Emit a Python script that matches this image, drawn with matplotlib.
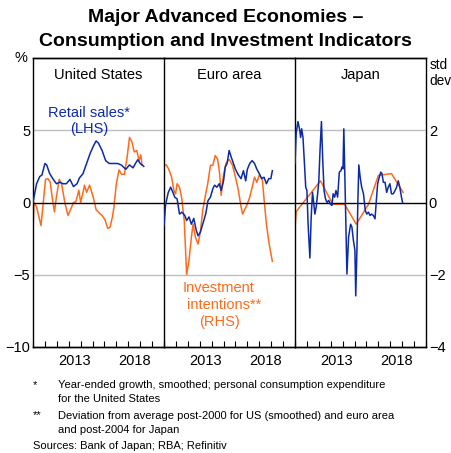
import matplotlib
matplotlib.use("Agg")
import matplotlib.pyplot as plt
import numpy as np

plt.rcParams["font.family"] = ["Liberation Sans", "DejaVu Sans"]

BLUE = "#0C2AA8"
ORANGE = "#FF6A1A"
GRID = "#BDBDBD"

# ---- data ----
# United States
us_retail_t = [2010.0, 2010.3, 2010.57, 2010.75, 2011.0, 2011.15, 2011.4, 2011.7, 2011.97, 2012.25,
               2012.5, 2012.8, 2013.1, 2013.4, 2013.7, 2013.9, 2014.2, 2014.5, 2014.8, 2015.1,
               2015.3, 2015.5, 2015.8, 2016.1, 2016.4, 2016.8, 2017.1, 2017.4, 2017.8, 2018.1,
               2018.4, 2018.6, 2018.8, 2019.0, 2019.3]
us_retail = [0.0, 1.3, 1.8, 1.9, 2.7, 2.6, 2.0, 1.6, 1.3, 1.4,
             1.3, 1.3, 1.6, 1.1, 1.3, 1.7, 2.0, 2.7, 3.4, 3.96,
             4.26, 4.1, 3.6, 2.9, 2.7, 2.7, 2.7, 2.6, 2.3, 2.6,
             2.4, 2.7, 2.96, 2.7, 2.5]
us_invest_t = [2010.0, 2010.08, 2010.3, 2010.5, 2010.67, 2010.83, 2011.05, 2011.25, 2011.45, 2011.6,
               2011.8, 2011.97, 2012.2, 2012.4, 2012.67, 2012.94, 2013.2, 2013.4, 2013.6, 2013.85,
               2014.0, 2014.2, 2014.32, 2014.5, 2014.75, 2015.05, 2015.3, 2015.6, 2015.8, 2016.05,
               2016.28, 2016.47, 2016.67, 2016.8, 2017.0, 2017.22, 2017.44, 2017.67, 2017.9, 2018.1,
               2018.3, 2018.5, 2018.72, 2018.9, 2019.05, 2019.15, 2019.2]
us_invest = [-0.82, 0.0, -0.12, -0.4, -0.64, -0.12, 0.64, 0.66, 0.56, 0.16,
             -0.26, 0.16, 0.64, 0.52, 0.0, -0.36, -0.16, 0.0, 0.02, 0.34,
             0.0, 0.28, 0.48, 0.28, 0.48, 0.16, -0.2, -0.3, -0.36, -0.48,
             -0.72, -0.68, -0.4, -0.12, 0.52, 0.9, 0.78, 0.78, 1.24, 1.8,
             1.68, 1.4, 1.44, 1.16, 1.32, 1.04, 1.04]

# Euro area
ea_retail_t = [2010.0, 2010.14, 2010.36, 2010.56, 2010.75, 2010.9, 2011.1, 2011.3, 2011.5, 2011.75,
               2011.9, 2012.1, 2012.3, 2012.5, 2012.7, 2012.86, 2013.05, 2013.25, 2013.5, 2013.7,
               2013.9, 2014.1, 2014.25, 2014.44, 2014.64, 2014.8, 2015.0, 2015.14, 2015.3, 2015.47,
               2015.64, 2015.83, 2016.0, 2016.25, 2016.47, 2016.67, 2016.86, 2017.0, 2017.2, 2017.4,
               2017.6, 2017.8, 2018.0, 2018.2, 2018.4, 2018.6, 2018.8, 2018.97, 2019.1]
ea_retail = [-1.6, -0.1, 0.7, 1.06, 0.7, 0.37, 0.25, -0.8, -0.67, -0.9,
             -1.25, -1.0, -1.5, -1.1, -1.9, -2.3, -2.06, -1.5, -0.8, 0.14,
             0.37, 0.95, 1.2, 1.06, 1.3, 0.83, 1.5, 2.45, 2.7, 3.6,
             3.15, 2.7, 2.3, 1.9, 1.65, 2.2, 1.5, 2.3, 2.7, 2.9,
             2.7, 2.3, 2.0, 1.65, 1.75, 1.3, 1.65, 1.65, 2.2]
ea_invest_t = [2010.0, 2010.2, 2010.4, 2010.64, 2010.83, 2010.97, 2011.1, 2011.3, 2011.5, 2011.7,
               2011.9, 2012.1, 2012.3, 2012.44, 2012.64, 2012.86, 2013.05, 2013.25, 2013.5, 2013.67,
               2013.9, 2014.1, 2014.3, 2014.5, 2014.67, 2014.8, 2015.0, 2015.2, 2015.47, 2015.75,
               2016.0, 2016.25, 2016.47, 2016.6, 2016.8, 2017.0, 2017.2, 2017.4, 2017.6, 2017.8,
               2018.0, 2018.25, 2018.4, 2018.6, 2018.83, 2019.1]
ea_invest = [1.03, 1.04, 0.92, 0.7, 0.33, 0.24, 0.52, 0.42, 0.1, -0.5,
             -2.0, -1.6, -0.96, -0.6, -0.96, -1.15, -0.82, -0.22, 0.24, 0.52,
             1.03, 1.03, 1.3, 1.2, 0.8, 0.2, 0.76, 1.08, 1.2, 1.03,
             0.7, 0.33, -0.12, -0.32, -0.18, -0.04, 0.15, 0.42, 0.7, 0.56,
             0.76, 0.66, 0.1, -0.6, -1.15, -1.63]

# Japan
jp_retail_t = [2010.0, 2010.1, 2010.25, 2010.4, 2010.47, 2010.56, 2010.67, 2010.78, 2010.9, 2011.0,
               2011.1, 2011.25, 2011.36, 2011.47, 2011.58, 2011.67, 2011.78, 2011.9, 2012.0, 2012.1,
               2012.22, 2012.33, 2012.44, 2012.56, 2012.7, 2012.83, 2013.0, 2013.1, 2013.2, 2013.33,
               2013.44, 2013.58, 2013.72, 2013.86, 2013.94, 2014.03, 2014.1, 2014.2, 2014.36, 2014.5,
               2014.67, 2014.78, 2014.9, 2015.03, 2015.1, 2015.2, 2015.28, 2015.36, 2015.47, 2015.6,
               2015.75, 2015.9, 2016.03, 2016.17, 2016.3, 2016.44, 2016.58, 2016.72, 2016.83, 2016.94,
               2017.08, 2017.2, 2017.3, 2017.42, 2017.56, 2017.7, 2017.83, 2017.97, 2018.1, 2018.25,
               2018.4, 2018.53, 2018.67, 2018.8, 2018.94, 2019.03]
jp_retail = [2.7, 4.8, 5.6, 5.0, 4.5, 5.1, 4.5, 2.9, 1.06, 0.83,
             -1.5, -3.84, -1.0, 0.7, -0.1, -0.8, -0.3, 0.6, 1.5, 3.6,
             5.6, 2.9, 0.83, 0.25, 0.0, 0.14, -0.14, -0.2, 0.6, 0.37,
             0.83, 0.37, 2.1, 2.2, 2.45, 2.33, 5.1, 1.3, -4.95, -2.4,
             -1.5, -1.7, -2.6, -3.3, -6.46, -3.3, 0.14, 2.6, 1.76, 1.06,
             0.6, -0.55, -0.8, -0.67, -0.9, -0.8, -0.9, -1.13, 0.14, 1.3,
             1.76, 2.1, 2.0, 1.4, 1.4, 0.7, 1.06, 1.3, 0.6, 0.6,
             0.83, 1.06, 1.5, 1.06, 0.37, 0.0]
jp_invest_t = [2010.0, 2010.1, 2012.14, 2013.17, 2014.17, 2015.14, 2016.17, 2017.0, 2018.1, 2019.08]
jp_invest = [-0.72, -0.25, 0.6, -0.05, -0.05, -0.6, -0.05, 0.75, 0.8, 0.28]

panels = [
    ("United States", us_retail_t, us_retail, us_invest_t, us_invest),
    ("Euro area", ea_retail_t, ea_retail, ea_invest_t, ea_invest),
    ("Japan", jp_retail_t, jp_retail, jp_invest_t, jp_invest),
]

W, H = 451, 453
fig = plt.figure(figsize=(W / 100, H / 100), dpi=100)

left_px, right_px, top_px, bot_px = 33, 426, 58, 347
pw = (right_px - left_px) / 3.0

for i, (name, rt, rv, it, iv) in enumerate(panels):
    x0 = (left_px + i * pw) / W
    ax = fig.add_axes([x0, 1 - bot_px / H, pw / W, (bot_px - top_px) / H])
    ax2 = ax.twinx()

    ax.set_xlim(2010, 2021)
    ax.set_ylim(-10, 10)
    ax2.set_ylim(-4, 4)

    for yv in (5, -5):
        ax.axhline(yv, color=GRID, lw=1.0, zorder=0)
    ax.axhline(0, color="black", lw=1.0, zorder=1)

    ax.plot(rt, rv, color=BLUE, lw=1.1, zorder=3)
    ax2.plot(it, iv, color=ORANGE, lw=1.1, zorder=2)

    ax.set_xticks(np.arange(2010, 2022), minor=False)
    ax.set_xticklabels([])
    ax.set_xticks([2013.5, 2018.5], minor=True)
    ax.set_xticklabels(["2013", "2018"], minor=True)
    ax.tick_params(axis="x", which="major", direction="in", length=4, width=0.8, color="black")
    ax.tick_params(axis="x", which="minor", length=0, labelsize=10.5, pad=5)

    ax.set_yticks([-10, -5, 0, 5])
    ax2.set_yticks([-4, -2, 0, 2])
    ax.tick_params(axis="y", length=0, labelsize=10.5, pad=2)
    ax2.tick_params(axis="y", length=0, labelsize=10.5, pad=2)
    if i != 0:
        ax.set_yticklabels([])
    if i != 2:
        ax2.set_yticklabels([])

    for a in (ax, ax2):
        for s in a.spines.values():
            s.set_linewidth(1.0)
            s.set_color("black")
    ax2.spines["left"].set_visible(False)
    if i != 2:
        ax2.spines["right"].set_visible(False)
    ax.spines["right"].set_visible(False)

    ax.set_zorder(ax2.get_zorder() + 1)
    ax.patch.set_visible(False)

    ax.text(0.5, 0.965, name, transform=ax.transAxes, ha="center", va="top", fontsize=10.5)

    if i == 0:
        ax.text(-0.04, 1.0, "%", transform=ax.transAxes, ha="right", va="center", fontsize=10.5)
        ax.text(0.43, 0.81, "Retail sales*", transform=ax.transAxes, ha="center", va="center",
                fontsize=10.5, color=BLUE)
        ax.text(0.43, 0.755, "(LHS)", transform=ax.transAxes, ha="center", va="center",
                fontsize=10.5, color=BLUE)
    if i == 1:
        ax.text(0.42, 0.205, "Investment", transform=ax.transAxes, ha="center", va="center",
                fontsize=10.5, color=ORANGE)
        ax.text(0.46, 0.147, "intentions**", transform=ax.transAxes, ha="center", va="center",
                fontsize=10.5, color=ORANGE)
        ax.text(0.42, 0.088, "(RHS)", transform=ax.transAxes, ha="center", va="center",
                fontsize=10.5, color=ORANGE)
    if i == 2:
        ax2.text(1.025, 1.0, "std\ndev", transform=ax2.transAxes, ha="left", va="top",
                 fontsize=9.8, linespacing=1.15)

fig.text(0.5, 1 - 18 / H, "Major Advanced Economies \u2013", ha="center", va="center",
         fontsize=14, fontweight="bold")
fig.text(0.5, 1 - 42 / H, "Consumption and Investment Indicators", ha="center", va="center",
         fontsize=14, fontweight="bold")

fs = 8
fig.text(33 / W, 1 - 385 / H, "*", ha="left", va="center", fontsize=fs)
fig.text(58 / W, 1 - 385 / H, "Year-ended growth, smoothed; personal consumption expenditure",
         ha="left", va="center", fontsize=fs)
fig.text(58 / W, 1 - 399 / H, "for the United States", ha="left", va="center", fontsize=fs)
fig.text(33 / W, 1 - 415 / H, "**", ha="left", va="center", fontsize=fs)
fig.text(58 / W, 1 - 416 / H, "Deviation from average post-2000 for US (smoothed) and euro area",
         ha="left", va="center", fontsize=fs)
fig.text(58 / W, 1 - 430 / H, "and post-2004 for Japan", ha="left", va="center", fontsize=fs)
fig.text(33 / W, 1 - 446 / H, "Sources: Bank of Japan; RBA; Refinitiv", ha="left", va="center", fontsize=fs)

fig.savefig("out.png", dpi=100, facecolor="white")
